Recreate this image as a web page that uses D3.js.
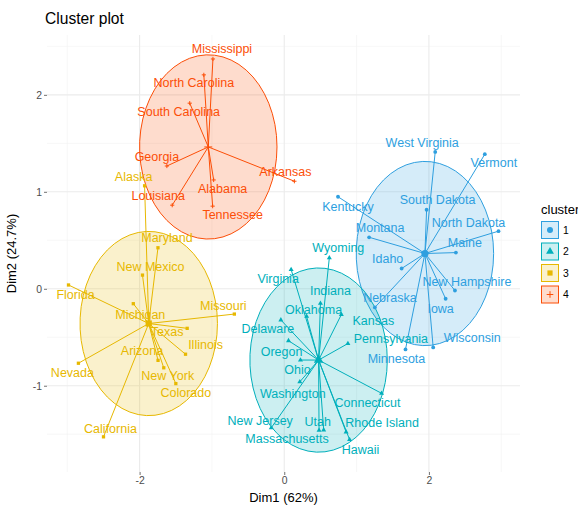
<!DOCTYPE html>
<html>
<head>
<meta charset="utf-8">
<script src="https://cdn.jsdelivr.net/npm/d3@7"></script>
<style>
  body { margin: 0; background: #fff; }
  svg { font-family: "Liberation Sans", Arial, sans-serif; }
</style>
</head>
<body>
<svg id="chart"></svg>
<script>
// USArrests, PCA scores (Dim1, Dim2) and k-means cluster
const states = ["Alabama","Alaska","Arizona","Arkansas","California","Colorado","Connecticut","Delaware","Florida","Georgia","Hawaii","Idaho","Illinois","Indiana","Iowa","Kansas","Kentucky","Louisiana","Maine","Maryland","Massachusetts","Michigan","Minnesota","Mississippi","Missouri","Montana","Nebraska","Nevada","New Hampshire","New Jersey","New Mexico","New York","North Carolina","North Dakota","Ohio","Oklahoma","Oregon","Pennsylvania","Rhode Island","South Carolina","South Dakota","Tennessee","Texas","Utah","Vermont","Virginia","Washington","West Virginia","Wisconsin","Wyoming"];
const dim1 = [-0.976,-1.931,-1.745,0.140,-2.499,-1.499,1.345,-0.047,-2.983,-1.623,0.903,1.623,-1.365,0.500,2.231,0.789,0.743,-1.549,2.373,-1.746,0.481,-2.087,1.676,-0.986,-0.690,1.173,1.253,-2.846,2.360,-0.180,-1.960,-1.666,-1.112,2.962,0.224,0.309,0.059,0.880,0.855,-1.307,1.968,-0.990,-1.342,0.545,2.773,0.095,0.215,2.087,2.059,0.623];
const dim2 = [1.122,1.062,-0.738,1.109,-1.527,-0.978,-1.078,-0.322,0.039,1.266,-1.555,0.209,-0.675,-0.150,-0.103,-0.267,0.949,0.862,0.373,0.423,-1.460,-0.154,-0.626,2.370,-0.261,0.531,-0.192,-0.768,-0.018,-1.434,0.141,-0.815,2.206,0.594,-0.735,-0.285,-0.536,-0.565,-1.477,1.914,0.815,0.852,-0.408,-1.456,1.388,0.198,-0.960,1.411,-0.605,0.318];
const cluster = [4,3,3,4,3,3,2,2,3,4,2,1,3,2,1,2,1,4,1,3,2,3,1,4,3,1,1,3,1,2,3,3,4,1,2,2,2,2,2,4,1,4,3,2,1,2,2,1,1,2];

const clusterIds = [1, 2, 3, 4];
const clusterColors = ["#2E9FDF", "#00AFBB", "#E7B800", "#FC4E07"];
const xTicks = [-2, 0, 2];
const yTicks = [-1, 0, 1, 2];
const xMinor = [-3, -1, 1, 3];
const yMinor = [-1.5, -0.5, 0.5, 1.5, 2.5];

// label placement (px) as the repel step left them
const labelNudge = {
  "Mississippi":[9,-10],"North Carolina":[-10,8],"South Carolina":[-11,9],"Georgia":[-10,-9],
  "Arkansas":[-9,-9],"Alabama":[9,9],"Louisiana":[-14,-9],"Tennessee":[20,9],
  "Alaska":[-11,-9],"Maryland":[9,-10],"New Mexico":[8,-8],"Florida":[7,10],"Michigan":[7,11],
  "Missouri":[-11,-8],"Texas":[-20,4],"Illinois":[20,-9],"Arizona":[-16,-9],"Nevada":[-6,10],
  "New York":[4,8],"Colorado":[10,9],"California":[7,-8],
  "Wyoming":[9,-10],"Virginia":[-13,9],"Indiana":[10,-12],"Oklahoma":[7,-6],"Kansas":[32,6],
  "Delaware":[-13,9],"Pennsylvania":[43,-5],"Oregon":[-7,11],"Ohio":[-3,10],"Washington":[-7,12],
  "Connecticut":[-14,10],"New Jersey":[-11,-7],"Utah":[-6,-8],"Rhode Island":[36,-9],
  "Massachusetts":[-32,9],"Hawaii":[11,10],
  "West Virginia":[-13,-9],"Vermont":[9,9],"Kentucky":[10,10],"South Dakota":[11,-10],
  "Montana":[11,-9],"North Dakota":[-30,-8],"Maine":[9,-10],"Idaho":[-14,-9],
  "New Hampshire":[12,-9],"Nebraska":[15,-9],"Iowa":[-5,10],"Wisconsin":[39,-9],"Minnesota":[-9,10]
};

const W = 578, H = 506;
const panel = { left: 47, right: 520, top: 35, bottom: 472 };
const radius = 0.95;   // euclid ellipse level

const svg = d3.select("#chart").attr("width", W).attr("height", H);
const color = d3.scaleOrdinal().domain(clusterIds).range(clusterColors);

const points = states.map((s, i) => ({ name: s, x: dim1[i], y: dim2[i], c: cluster[i] }));
const centers = clusterIds.map(c => {
  const m = points.filter(p => p.c === c);
  return { c, x: d3.mean(m, p => p.x), y: d3.mean(m, p => p.y) };
});
const circles = centers.map(ct => ({
  c: ct.c,
  pts: d3.range(52).map(k => {
    const a = k * 2 * Math.PI / 51;
    return [ct.x + radius * Math.cos(a), ct.y + radius * Math.sin(a)];
  })
}));

const allX = points.map(p => p.x).concat(circles.flatMap(e => e.pts.map(q => q[0])));
const allY = points.map(p => p.y).concat(circles.flatMap(e => e.pts.map(q => q[1])));
const expand = ext => { const d = (ext[1] - ext[0]) * 0.05; return [ext[0] - d, ext[1] + d]; };

const x = d3.scaleLinear().domain(expand(d3.extent(allX))).range([panel.left, panel.right]);
const y = d3.scaleLinear().domain(expand(d3.extent(allY))).range([panel.bottom, panel.top]);

// grid
const grid = svg.append("g");
grid.selectAll(".vmin").data(xMinor).enter().append("line")
  .attr("x1", d => x(d)).attr("x2", d => x(d)).attr("y1", panel.top).attr("y2", panel.bottom)
  .attr("stroke", "#F2F2F2").attr("stroke-width", 0.6);
grid.selectAll(".hmin").data(yMinor).enter().append("line")
  .attr("y1", d => y(d)).attr("y2", d => y(d)).attr("x1", panel.left).attr("x2", panel.right)
  .attr("stroke", "#F2F2F2").attr("stroke-width", 0.6);
grid.selectAll(".vmaj").data(xTicks).enter().append("line")
  .attr("x1", d => x(d)).attr("x2", d => x(d)).attr("y1", panel.top).attr("y2", panel.bottom)
  .attr("stroke", "#EBEBEB").attr("stroke-width", 1.1);
grid.selectAll(".hmaj").data(yTicks).enter().append("line")
  .attr("y1", d => y(d)).attr("y2", d => y(d)).attr("x1", panel.left).attr("x2", panel.right)
  .attr("stroke", "#EBEBEB").attr("stroke-width", 1.1);

// ellipses
const line = d3.line().x(d => x(d[0])).y(d => y(d[1]));
svg.append("g").selectAll("path").data(circles).enter().append("path")
  .attr("d", d => line(d.pts) + "Z")
  .attr("fill", d => color(d.c)).attr("fill-opacity", 0.2)
  .attr("stroke", d => color(d.c)).attr("stroke-width", 1);

// star segments
const ctr = c => centers.find(e => e.c === c);
svg.append("g").selectAll("line").data(points).enter().append("line")
  .attr("x1", d => x(ctr(d.c).x)).attr("y1", d => y(ctr(d.c).y))
  .attr("x2", d => x(d.x)).attr("y2", d => y(d.y))
  .attr("stroke", d => color(d.c)).attr("stroke-width", 1);

// point shapes: circle, triangle, square, plus
function drawShape(g, c, size) {
  const col = color(c);
  if (c === 4) {
    const r = size * 1.1;
    g.append("path").attr("d", `M${-r},0H${r}M0,${-r}V${r}`)
      .attr("stroke", col).attr("stroke-width", 1).attr("fill", "none");
  } else {
    const type = c === 1 ? d3.symbolCircle : c === 2 ? d3.symbolTriangle : d3.symbolSquare;
    const area = c === 1 ? Math.PI * size * size : c === 2 ? size * size * 3 : size * size * 3;
    g.append("path").attr("d", d3.symbol().type(type).size(area)()).attr("fill", col);
  }
}

svg.append("g").selectAll("g").data(points).enter().append("g")
  .attr("transform", d => `translate(${x(d.x)},${y(d.y)})`)
  .each(function(d) { drawShape(d3.select(this), d.c, 1.9); });

// labels
svg.append("g").selectAll("text").data(points).enter().append("text")
  .attr("x", d => x(d.x) + (labelNudge[d.name] || [0, 0])[0])
  .attr("y", d => y(d.y) + (labelNudge[d.name] || [0, 0])[1])
  .attr("text-anchor", "middle").attr("dominant-baseline", "central")
  .attr("font-size", 12.5).attr("fill", d => color(d.c))
  .text(d => d.name);

// cluster centres
svg.append("g").selectAll("g").data(centers).enter().append("g")
  .attr("transform", d => `translate(${x(d.x)},${y(d.y)})`)
  .each(function(d) { drawShape(d3.select(this), d.c, 3.6); });

// axes
const xAxis = svg.append("g").attr("transform", `translate(0,${panel.bottom})`)
  .call(d3.axisBottom(x).tickValues(xTicks).tickFormat(d3.format("d")).tickSize(3).tickPadding(2).tickSizeOuter(0));
const yAxis = svg.append("g").attr("transform", `translate(${panel.left},0)`)
  .call(d3.axisLeft(y).tickValues(yTicks).tickFormat(d3.format("d")).tickSize(3).tickPadding(2).tickSizeOuter(0));
[xAxis, yAxis].forEach(a => {
  a.select(".domain").remove();
  a.selectAll(".tick line").attr("stroke", "#4D4D4D").attr("stroke-width", 0.8);
  a.selectAll(".tick text").attr("fill", "#4D4D4D").attr("font-size", 10.4)
    .attr("font-family", "Liberation Sans, Arial, sans-serif");
});
yAxis.selectAll(".tick text").text(d => d < 0 ? "-" + Math.abs(d) : d);
xAxis.selectAll(".tick text").text(d => d < 0 ? "-" + Math.abs(d) : d);

svg.append("text").attr("x", (panel.left + panel.right) / 2).attr("y", 502)
  .attr("text-anchor", "middle").attr("font-size", 13).attr("fill", "#000").text("Dim1 (62%)");
svg.append("text").attr("transform", `translate(16,${(panel.top + panel.bottom) / 2}) rotate(-90)`)
  .attr("text-anchor", "middle").attr("font-size", 13).attr("fill", "#000").text("Dim2 (24.7%)");
svg.append("text").attr("x", panel.left - 2).attr("y", 24)
  .attr("font-size", 15.6).attr("fill", "#000").text("Cluster plot");

// legend
const legend = svg.append("g").attr("transform", "translate(541,0)");
legend.append("text").attr("x", 0).attr("y", 214).attr("font-size", 13).text("cluster");
const keys = legend.selectAll(".key").data(clusterIds).enter().append("g")
  .attr("transform", (d, i) => `translate(0,${221 + i * 21.5})`);
keys.append("rect").attr("x", 0.5).attr("y", 0.5).attr("width", 17).attr("height", 17)
  .attr("fill", d => color(d)).attr("fill-opacity", 0.2)
  .attr("stroke", d => color(d)).attr("stroke-width", 1);
keys.append("g").attr("transform", "translate(9,9)")
  .each(function(d) { drawShape(d3.select(this), d, 3); });
keys.append("text").attr("x", 22).attr("y", 9).attr("dominant-baseline", "central")
  .attr("font-size", 10.4).attr("fill", "#000").text(d => d);
</script>
</body>
</html>
